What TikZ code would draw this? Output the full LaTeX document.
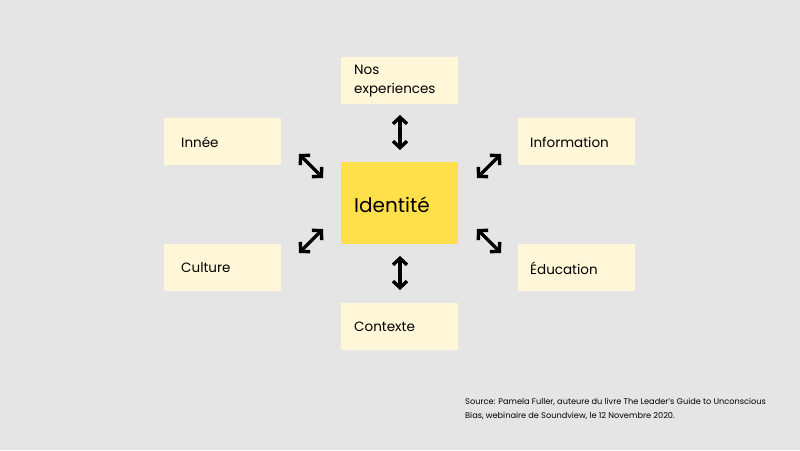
\documentclass[tikz,border=0pt]{standalone}
\usepackage{fontspec}
\setmainfont{Poppins}
\usetikzlibrary{arrows.meta}
\definecolor{bg}{HTML}{E5E5E5}
\definecolor{cream}{HTML}{FFF7D8}
\definecolor{yel}{HTML}{FFDF4A}
\begin{document}
\begin{tikzpicture}[x=1pt,y=-1pt,
  box/.style={fill=cream,draw=none,minimum width=117pt,minimum height=47pt,inner sep=0pt},
  lbl/.style={anchor=west,font=\fontsize{13.5}{19}\selectfont,align=left,inner sep=0pt},
  arr/.style={line width=3.4pt,{Straight Barb[length=6.5pt,width=14pt,line width=3.4pt]}-{Straight Barb[length=6.5pt,width=14pt,line width=3.4pt]}}]
\fill[bg] (0,0) rectangle (800,450);
\useasboundingbox (0,0) rectangle (800,450);
\node[box] (nos) at (399.5,80.5) {};
\node[box] (inn) at (222.5,141.5) {};
\node[box] (inf) at (576.5,141.5) {};
\node[box] (cul) at (222.5,267.5) {};
\node[box] (edu) at (576.5,267.5) {};
\node[box] (con) at (399.5,326.5) {};
\node[fill=yel,minimum width=117pt,minimum height=82pt,inner sep=0pt] (id) at (399.5,203) {};
\node[lbl] at (354,81) {Nos\\experiences};
\node[lbl] at (181,142) {Innée};
\node[lbl] at (530,142) {Information};
\node[lbl] at (181,268) {Culture};
\node[lbl] at (530,268) {Éducation};
\node[lbl] at (354,327) {Contexte};
\node[lbl,font=\fontsize{20}{24}\selectfont] at (354,205) {Identité};
\coordinate (a1) at (400,115); \coordinate (a2) at (400,150);
\coordinate (b1) at (400,256); \coordinate (b2) at (400,290);
\coordinate (c1) at (299,154); \coordinate (c2) at (323,178);
\coordinate (d1) at (477,178); \coordinate (d2) at (501,154);
\coordinate (e1) at (299,253); \coordinate (e2) at (323,229);
\coordinate (f1) at (477,229); \coordinate (f2) at (501,253);
\draw[arr] (a1) -- (a2);
\draw[arr] (b1) -- (b2);
\draw[arr] (c1) -- (c2);
\draw[arr] (d1) -- (d2);
\draw[arr] (e1) -- (e2);
\draw[arr] (f1) -- (f2);
\node[anchor=north west,align=left,inner sep=0pt,font=\fontsize{8.2}{14}\selectfont] at (465,398) {Source: Pamela Fuller, auteure du livre The Leader's Guide to Unconscious\\Bias, webinaire de Soundview, le 12 Novembre 2020.};
\end{tikzpicture}
\end{document}
